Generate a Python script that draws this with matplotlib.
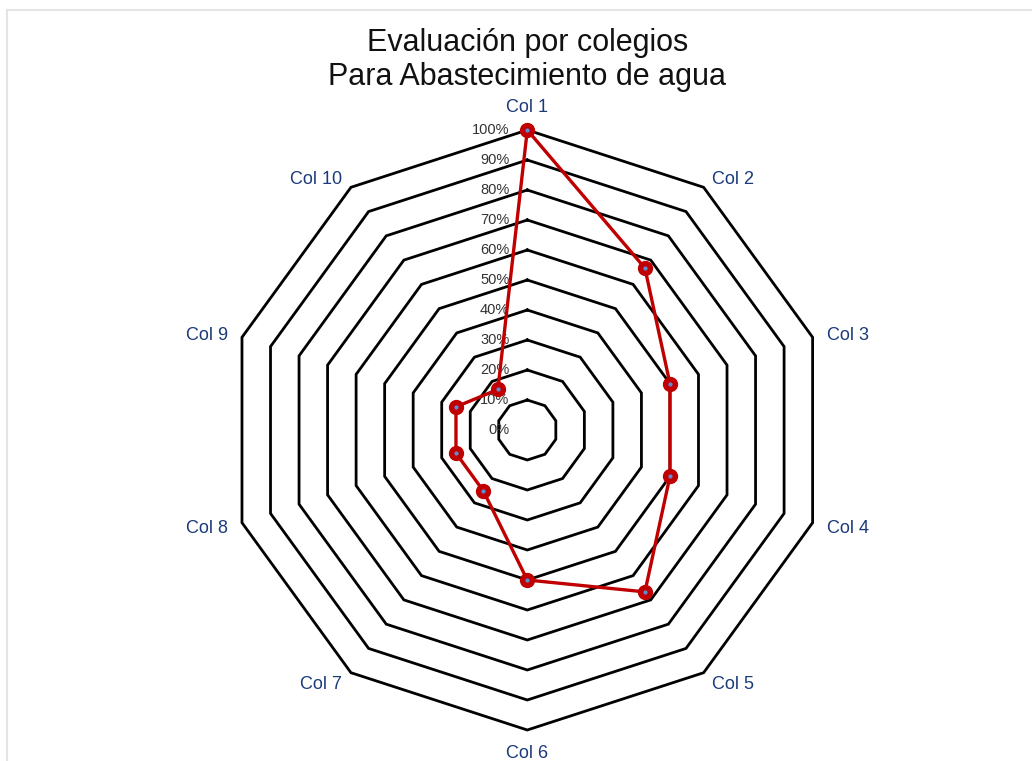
import numpy as np
import matplotlib
matplotlib.use("Agg")
import matplotlib.pyplot as plt
from matplotlib.patches import Rectangle

# colegios evaluados y su puntaje (fraccion de 1)
colegios = ["Col 1", "Col 2", "Col 3", "Col 4", "Col 5",
            "Col 6", "Col 7", "Col 8", "Col 9", "Col 10"]
puntajes = [1.0, 0.667, 0.5, 0.5, 0.667, 0.5, 0.25, 0.25, 0.25, 0.167]
niveles = [0.0, 0.1, 0.2, 0.3, 0.4, 0.5, 0.6, 0.7, 0.8, 0.9, 1.0]
etiquetas_niveles = ["0%", "10%", "20%", "30%", "40%", "50%",
                     "60%", "70%", "80%", "90%", "100%"]

W, H = 1032, 761
cx, cy, R = 527.3, 430.0, 300.0   # centro y radio en pixeles

fig = plt.figure(figsize=(W / 100, H / 100), dpi=100)
ax = fig.add_axes([0, 0, 1, 1])
ax.set_xlim(-cx / R, (W - cx) / R)
ax.set_ylim(-(H - cy) / R, cy / R)
ax.set_aspect("equal")
ax.axis("off")

plt.rcParams["font.family"] = ["Liberation Sans", "DejaVu Sans"]

n = len(colegios)
ang = np.deg2rad(90 - 360.0 / n * np.arange(n))
ux, uy = np.cos(ang), np.sin(ang)

# marco gris claro
ax.add_patch(Rectangle(((6.5 - cx) / R, -(H + 20 - cy) / R),
                       (W + 20) / R, (H + 10.5) / R,
                       fill=False, edgecolor="#e4e4e4", lw=1.5))

# anillos del decagono
for v in niveles[1:]:
    ax.plot(np.append(ux, ux[0]) * v, np.append(uy, uy[0]) * v,
            color="black", lw=2.0, solid_joinstyle="miter", zorder=2)

for v, t in zip(niveles, etiquetas_niveles):
    ax.text(-18 / R, v, t, ha="right", va="center", fontsize=10.5,
            color="#333333", zorder=3)

# nombres de los colegios
rl = 1.05
for x, y, nom in zip(ux, uy, colegios):
    if abs(x) < 1e-6:
        ha = "center"
        if y > 0:
            va, y2 = "bottom", y * 1.048
        else:
            va, y2 = "top", y * 1.05
    else:
        ha = "left" if x > 0 else "right"
        va = "center"
        y2 = y * rl * 0.99 - 2 / R
    ax.text(x * rl, y2, nom, ha=ha, va=va, fontsize=13, color="#1b3a7a")

p = np.array(puntajes)
px = np.append(ux * p, ux[0] * p[0])
py = np.append(uy * p, uy[0] * p[0])
ax.plot(px, py, color="#c00000", lw=2.4, zorder=4)
ax.plot(ux * p, uy * p, "o", color="#c00000", ms=10, zorder=5)
ax.plot(ux * p, uy * p, "o", color="#5b8fd8", ms=2.0, zorder=6)

ax.text(0, (cy - 43) / R, "Evaluación por colegios", ha="center",
        va="center", fontsize=22, color="#111111")
ax.text(0, (cy - 77) / R, "Para Abastecimiento de agua", ha="center",
        va="center", fontsize=22, color="#111111")

fig.savefig("out.png", dpi=100)
